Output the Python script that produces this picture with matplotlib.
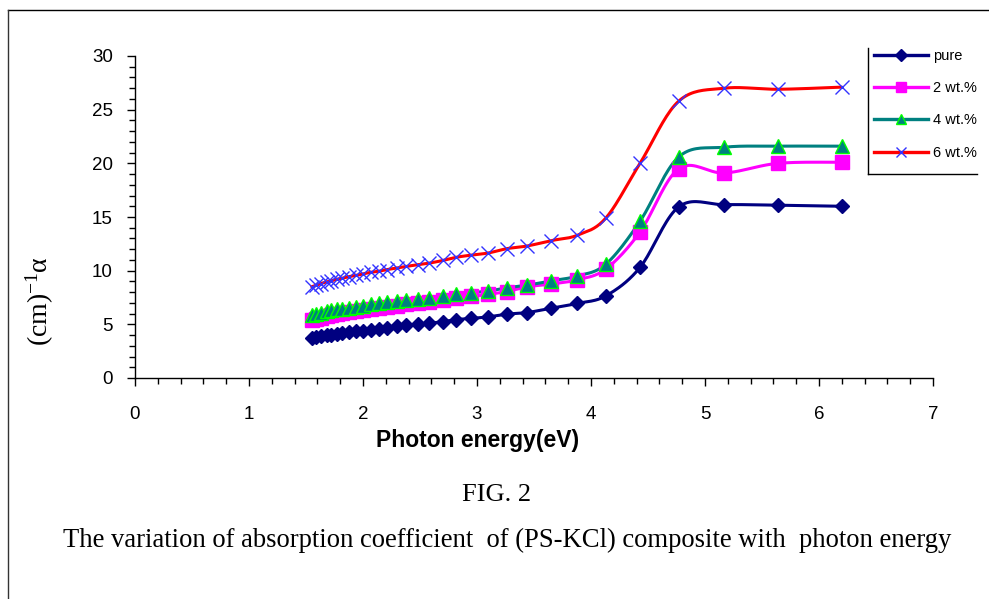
import numpy as np
import matplotlib
matplotlib.use("Agg")
import matplotlib.pyplot as plt
from matplotlib.lines import Line2D
from matplotlib.ticker import MultipleLocator

plt.rcParams['mathtext.fontset'] = 'custom'
plt.rcParams['mathtext.rm'] = 'Liberation Serif'
plt.rcParams['mathtext.it'] = 'Liberation Serif'

# ---------------- data ----------------
energy = [1.55, 1.59, 1.63, 1.68, 1.72, 1.77, 1.82, 1.88, 1.94, 2.00, 2.07, 2.14,
          2.21, 2.30, 2.38, 2.48, 2.58, 2.70, 2.82, 2.95, 3.10, 3.26, 3.44, 3.65,
          3.88, 4.13, 4.43, 4.77, 5.17, 5.64, 6.20]

pure = [3.75, 3.85, 3.9, 4.0, 4.05, 4.1, 4.2, 4.3, 4.35, 4.4, 4.5, 4.6,
        4.7, 4.8, 4.9, 5.0, 5.1, 5.25, 5.45, 5.55, 5.7, 5.95, 6.1, 6.5,
        6.95, 7.65, 10.3, 15.95, 16.15, 16.1, 16.0]

wt2 = [5.4, 5.5, 5.6, 5.75, 5.85, 5.95, 6.05, 6.15, 6.25, 6.35, 6.45, 6.55,
       6.65, 6.75, 6.85, 7.0, 7.1, 7.3, 7.5, 7.6, 7.8, 8.05, 8.5, 8.75,
       9.15, 10.15, 13.6, 19.5, 19.1, 20.0, 20.1]

wt4 = [5.9, 6.0, 6.1, 6.2, 6.3, 6.4, 6.45, 6.55, 6.65, 6.75, 6.85, 6.95,
       7.05, 7.15, 7.25, 7.35, 7.45, 7.6, 7.8, 7.95, 8.1, 8.4, 8.65, 9.05,
       9.5, 10.6, 14.6, 20.6, 21.5, 21.6, 21.6]

wt6 = [8.5, 8.65, 8.8, 8.95, 9.05, 9.2, 9.3, 9.45, 9.55, 9.7, 9.85, 9.95,
       10.1, 10.25, 10.4, 10.55, 10.7, 10.95, 11.25, 11.45, 11.65, 12.05, 12.3, 12.8,
       13.3, 14.9, 20.0, 25.8, 27.0, 26.9, 27.1]

labels = ["pure", "2 wt.%", "4 wt.%", "6 wt.%"]
xticks = [0, 1, 2, 3, 4, 5, 6, 7]
yticks = [0, 5, 10, 15, 20, 25, 30]


def smooth(x, y, n=20):
    """Excel-like smoothed line (Catmull-Rom Bezier through the points)."""
    x = np.asarray(x, float)
    y = np.asarray(y, float)
    P = np.column_stack([x, y])
    out = []
    t = np.linspace(0, 1, n, endpoint=False)[:, None]
    for i in range(len(P) - 1):
        p0 = P[i - 1] if i > 0 else P[i]
        p1 = P[i]
        p2 = P[i + 1]
        p3 = P[i + 2] if i + 2 < len(P) else P[i + 1]
        c1 = p1 + (p2 - p0) / 6.0
        c2 = p2 - (p3 - p1) / 6.0
        seg = ((1 - t) ** 3) * p1 + 3 * ((1 - t) ** 2) * t * c1 + 3 * (1 - t) * t ** 2 * c2 + t ** 3 * p2
        out.append(seg)
    out.append(P[-1][None, :])
    S = np.vstack(out)
    return S[:, 0], S[:, 1]


W, H = 989, 599
fig = plt.figure(figsize=(W / 100, H / 100), dpi=100)
fig.patch.set_facecolor('white')

L, R, B, T = 135, 933, 378, 56
ax = fig.add_axes([L / W, 1 - B / H, (R - L) / W, (B - T) / H])

styles = [
    dict(color='#000080', marker='D', ms=7.5, mfc='#000080', mec='#000080', mew=1, lw=2.2),
    dict(color='#FF00FF', marker='s', ms=9.5, mfc='#FF00FF', mec='#FF00FF', mew=1, lw=2.2),
    dict(color='#008080', marker='^', ms=9.5, mfc='#008080', mec='#00FF00', mew=1, lw=2.2),
    dict(color='#FF0000', marker='x', ms=9.5, mfc='none', mec='#3333FF', mew=1.0, lw=2.2),
]
series = [pure, wt2, wt4, wt6]

handles = []
for ys, st, lab in zip(series, styles, labels):
    sx, sy = smooth(energy, ys)
    ax.plot(sx, sy, color=st['color'], lw=st['lw'], solid_capstyle='round', zorder=2)
    ax.plot(energy, ys, ls='none', marker=st['marker'], ms=st['ms'], mfc=st['mfc'],
            mec=st['mec'], mew=st['mew'], zorder=3)
    handles.append(Line2D([0], [0], color=st['color'], lw=st['lw'] * 1.1, marker=st['marker'],
                          ms=st['ms'] * 0.75, mfc=st['mfc'], mec=st['mec'], mew=st['mew']))

ax.set_xlim(0, 7)
ax.set_ylim(0, 30)
ax.set_xticks(xticks)
ax.set_yticks(yticks)
ax.xaxis.set_minor_locator(MultipleLocator(0.2))
ax.yaxis.set_minor_locator(MultipleLocator(1))
for s in ['top', 'right']:
    ax.spines[s].set_visible(False)
for s in ['left', 'bottom']:
    ax.spines[s].set_linewidth(1.0)
    ax.spines[s].set_color('black')
ax.tick_params(axis='both', which='major', direction='out', length=6, width=1, colors='black')
ax.tick_params(axis='both', which='minor', direction='out', length=4, width=1, colors='black')
ax.tick_params(axis='x', which='major', pad=14, labelsize=13.5)
ax.tick_params(axis='y', which='major', pad=10, labelsize=13.5)
for lab in ax.get_xticklabels() + ax.get_yticklabels():
    lab.set_fontfamily('Liberation Sans')

# axis titles
fig.text(478 / W, 1 - 440 / H, 'Photon energy(eV)', ha='center', va='center',
         fontsize=16.5, fontweight='bold', family='Liberation Sans')
fig.text(40 / W, 1 - 301 / H, r'(cm)$^{\mathrm{-1}}$α', ha='center', va='center', rotation=90,
         fontsize=20, family='Liberation Serif')

# legend
leg = fig.legend(handles, labels, loc='upper left', bbox_to_anchor=(874 / W, 1 - 49 / H),
                 frameon=False, prop={'family': 'Liberation Sans', 'size': 10.5},
                 handlelength=3.7, handletextpad=0.35, labelspacing=1.25, borderpad=0,
                 borderaxespad=0)
fig.add_artist(Line2D([868 / W, 868 / W], [1 - 48 / H, 1 - 174 / H], color='black', lw=1,
                      transform=fig.transFigure))
fig.add_artist(Line2D([868 / W, 977 / W], [1 - 174 / H, 1 - 174 / H], color='black', lw=1,
                      transform=fig.transFigure))

# page border
fig.add_artist(Line2D([8 / W, 1.0], [1 - 10 / H, 1 - 10 / H], color='black', lw=1,
                      transform=fig.transFigure))
fig.add_artist(Line2D([8 / W, 8 / W], [1 - 10 / H, 0.0], color='#333333', lw=1,
                      transform=fig.transFigure))

# captions
fig.text(497 / W, 1 - 495 / H, 'FIG. 2', ha='center', va='center', fontsize=19,
         family='Liberation Serif')
cap = fig.text(507 / W, 1 - 540 / H,
               'The variation of absorption coefficient  of (PS-KCl) composite with  photon energy',
               ha='center', va='center', fontsize=17, family='Liberation Serif')
fig.canvas.draw()
bb = cap.get_window_extent()
cap.set_fontsize(17 * 890 / bb.width)

fig.savefig('out.png', dpi=100, facecolor='white')
